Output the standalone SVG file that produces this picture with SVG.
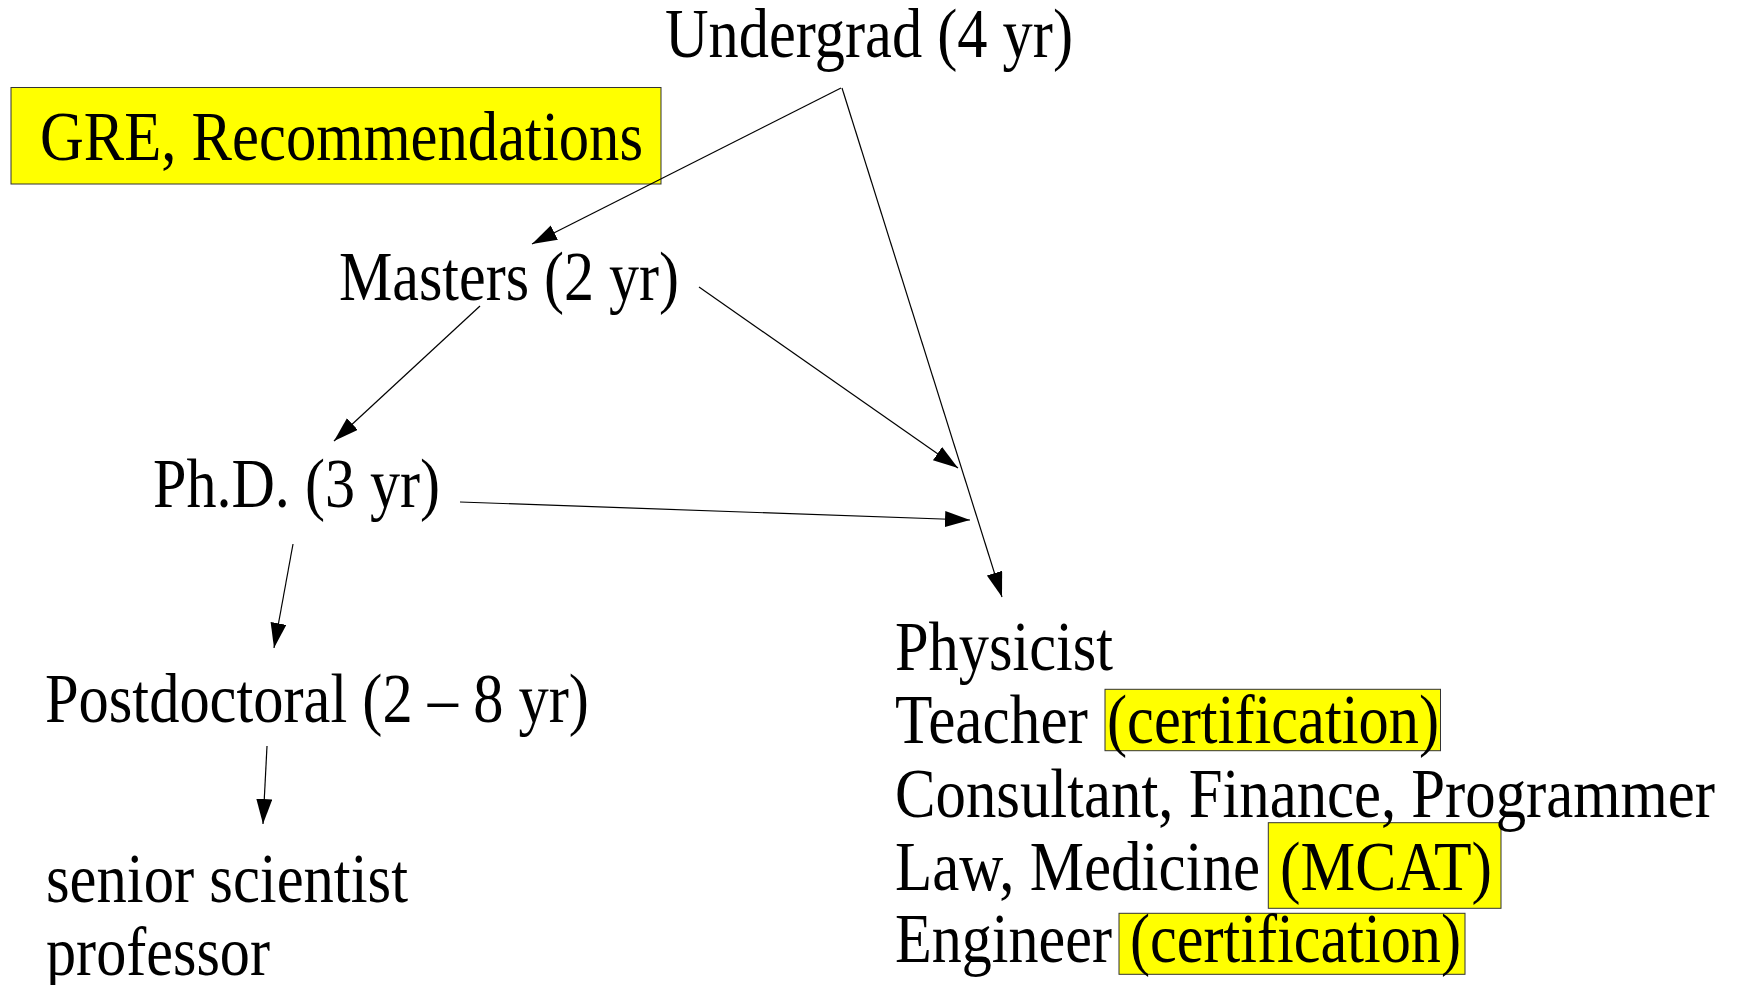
<svg xmlns="http://www.w3.org/2000/svg" width="1737" height="985" viewBox="0 0 1737 985">
<style>
.t{font-family:"Liberation Serif","Times New Roman",serif;font-size:69px;fill:#000}
.hl{fill:#ffff00;stroke:#333;stroke-width:1}
.c{stroke:#000;stroke-width:1.2;fill:none;marker-end:url(#ah)}
</style>
<defs>
<marker id="ah" markerUnits="userSpaceOnUse" markerWidth="26" markerHeight="18" refX="25" refY="8" orient="auto">
<path d="M0,0 L25,8 L0,16 z" fill="#000"/>
</marker>
</defs>
<rect width="1737" height="985" fill="#fff"/>
<g id="undergrad"><text class="t" x="665" y="57" textLength="408" lengthAdjust="spacingAndGlyphs">Undergrad (4 yr)</text></g>
<g id="gre"><rect class="hl" x="11" y="87.5" width="650" height="96.5" stroke="#000"/><text class="t" x="40" y="160" textLength="603" lengthAdjust="spacingAndGlyphs">GRE, Recommendations</text></g>
<g id="masters"><text class="t" x="339" y="300" textLength="340" lengthAdjust="spacingAndGlyphs">Masters (2 yr)</text></g>
<g id="phd"><text class="t" x="153" y="507" textLength="287" lengthAdjust="spacingAndGlyphs">Ph.D. (3 yr)</text></g>
<g id="postdoc"><text class="t" x="45" y="722" textLength="544" lengthAdjust="spacingAndGlyphs">Postdoctoral (2 – 8 yr)</text></g>
<g id="senior"><text class="t" x="46" y="902" textLength="362" lengthAdjust="spacingAndGlyphs">senior scientist</text><text class="t" x="46" y="975" textLength="224" lengthAdjust="spacingAndGlyphs">professor</text></g>
<g id="careers">
<rect class="hl" x="1105" y="689.3" width="335.5" height="61.4"/>
<rect class="hl" x="1268.3" y="822.7" width="232.7" height="85.6"/>
<rect class="hl" x="1119" y="913.3" width="346" height="61"/>
<text class="t" x="895" y="670" textLength="218" lengthAdjust="spacingAndGlyphs">Physicist</text>
<text class="t" x="895" y="743" textLength="193" lengthAdjust="spacingAndGlyphs">Teacher</text>
<text class="t" x="1107" y="743" textLength="332" lengthAdjust="spacingAndGlyphs">(certification)</text>
<text class="t" x="895" y="817" textLength="820" lengthAdjust="spacingAndGlyphs">Consultant, Finance, Programmer</text>
<text class="t" x="895" y="890" textLength="365" lengthAdjust="spacingAndGlyphs">Law, Medicine</text>
<text class="t" x="1280" y="890" textLength="212" lengthAdjust="spacingAndGlyphs">(MCAT)</text>
<text class="t" x="895" y="962" textLength="217" lengthAdjust="spacingAndGlyphs">Engineer</text>
<text class="t" x="1130" y="962" textLength="331" lengthAdjust="spacingAndGlyphs">(certification)</text>
</g>
<g id="connectors">
<line class="c" x1="841" y1="88" x2="532" y2="244"/>
<line class="c" x1="842" y1="88" x2="1002" y2="597"/>
<line class="c" x1="480" y1="306" x2="334" y2="441"/>
<line class="c" x1="699" y1="287" x2="958" y2="468"/>
<line class="c" x1="460" y1="502" x2="970" y2="520"/>
<line class="c" x1="293" y1="544" x2="274" y2="648"/>
<line class="c" x1="267" y1="746" x2="263" y2="824"/>
</g>
</svg>
